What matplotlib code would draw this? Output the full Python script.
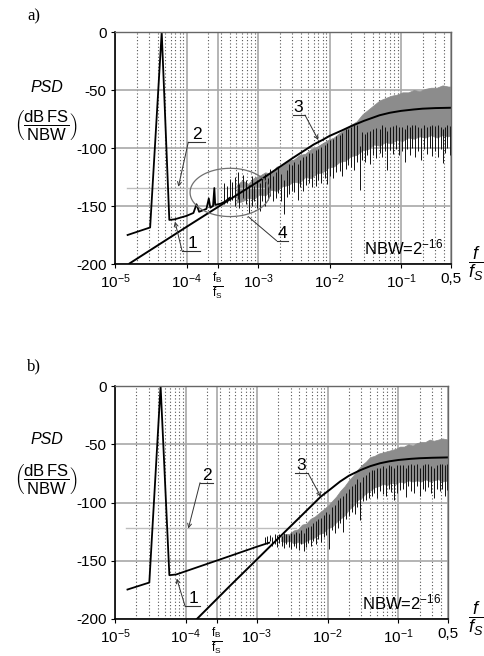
import numpy as np
import matplotlib.pyplot as plt

plt.rcParams['font.family'] = ['Liberation Sans', 'DejaVu Sans']
plt.rcParams['mathtext.fontset'] = 'custom'
plt.rcParams['mathtext.rm'] = 'Liberation Sans'
plt.rcParams['mathtext.it'] = 'Liberation Sans:italic'
plt.rcParams['mathtext.bf'] = 'Liberation Sans:bold'

# ---------------- data ----------------
f_b = 2.75e-4
x_ticks = [1e-5, 1e-4, f_b, 1e-3, 1e-2, 1e-1, 0.5]
x_labels = [r'$10^{-5}$', r'$10^{-4}$', '',
            r'$10^{-3}$', r'$10^{-2}$', r'$10^{-1}$', '0,5']
fb_label = r'$\frac{\mathrm{f_B}}{\mathrm{f_S}}$'
y_ticks = [-200, -150, -100, -50, 0]
y_labels = ['-200', '-150', '-100', '-50', '0']

# panel a) -- curve 1 (measured PSD, low frequency part)
a_c1_f = [1.5e-5, 3.1e-5, 4.5e-5, 5.75e-5, 6.8e-5, 1.0e-4, 1.25e-4, 1.38e-4, 1.5e-4,
          1.9e-4, 2.05e-4, 2.15e-4, 2.35e-4, 2.45e-4, 2.52e-4, 3.0e-4, 3.5e-4, 4.0e-4]
a_c1_db = [-175, -168.5, 0, -162, -161.5, -158.5, -156, -148.5, -155,
           -152.5, -143.5, -151.5, -150, -134.5, -149, -148, -146, -143]
# panel a) -- curve 2 (light grey level)
a_c2_f = [1.45e-5, 1.2e-3]
a_c2_db = [-134.5, -134.5]
# panel a) -- curve 3 (theoretical)
a_c3_f = [1.6e-5, 1e-4, 1e-3, 3e-3, 4e-3, 6e-3, 8e-3, 1e-2, 1.5e-2, 2e-2, 3e-2,
          5e-2, 7e-2, 0.1, 0.15, 0.2, 0.3, 0.5]
a_c3_db = [-199.5, -168, -129, -109, -104, -97, -93, -89.6, -84.8, -81.2, -76.7,
           -71.8, -69.6, -68, -66.8, -66.1, -65.6, -65.3]
# panel a) -- grey noise band (log10 f, upper, lower)
a_band_logf = [-3.30, -3.22, -3.14, -3.06, -2.98, -2.90, -2.82, -2.74, -2.66, -2.58,
               -2.50, -2.42, -2.34, -2.26, -2.18, -2.10, -2.02, -1.94, -1.86, -1.78,
               -1.70, -1.62, -1.54, -1.46, -1.38, -1.30, -1.22, -1.14, -1.06, -0.98,
               -0.90, -0.82, -0.74, -0.66, -0.58, -0.50, -0.42, -0.34, -0.30]
a_band_hi = [-132, -128, -131, -126, -124, -121, -122, -116, -115, -111,
             -110, -106, -105, -101, -99, -96, -93, -91, -87, -84,
             -80, -77, -71, -67, -63, -59, -57, -55, -54, -52,
             -52, -50, -51, -49, -48, -48, -46, -47, -47]
a_band_lo = [-147, -146, -143, -144, -140, -141, -136, -137, -133, -132,
             -129, -130, -125, -126, -122, -121, -117, -116, -112, -111,
             -107, -106, -102, -101, -97, -98, -95, -96, -93, -94,
             -91, -92, -90, -91, -89, -91, -89, -90, -89]
# panel a) -- black spikes (log10 f, bottom, top)
a_sp_logf = [-3.47, -3.43, -3.39, -3.36, -3.32, -3.28, -3.26, -3.21, -3.17, -3.13,
             -3.09, -3.05, -3.02, -2.97, -2.95, -2.90, -2.86, -2.83, -2.79, -2.75,
             -2.72, -2.68, -2.63, -2.60, -2.56, -2.53, -2.49, -2.44, -2.41, -2.37,
             -2.33, -2.29, -2.24, -2.19, -2.16, -2.12, -2.07, -2.04, -1.99, -1.95,
             -1.91, -1.86, -1.82, -1.77, -1.74, -1.70, -1.66, -1.61, -1.58, -1.55,
             -1.50, -1.47, -1.43, -1.39, -1.35, -1.30, -1.27, -1.22, -1.19, -1.15,
             -1.11, -1.07, -1.03, -0.99, -0.95, -0.92, -0.88, -0.84, -0.80, -0.76,
             -0.72, -0.68, -0.64, -0.60, -0.56, -0.52, -0.48, -0.44, -0.41, -0.38,
             -0.35, -0.32]
a_sp_lo = [-148, -147, -146, -145, -150, -144, -152, -143, -148, -156,
           -150, -146, -152, -154, -146, -150, -145, -141, -146, -143,
           -139, -146, -157, -142, -140, -137, -138, -145, -134, -137,
           -132, -130, -134, -133, -128, -130, -126, -131, -124, -126,
           -121, -120, -124, -118, -115, -116, -119, -112, -136, -110,
           -112, -106, -114, -106, -109, -104, -108, -103, -119, -102,
           -105, -101, -106, -103, -112, -101, -106, -100, -108, -103,
           -110, -101, -105, -100, -107, -103, -108, -101, -113, -104,
           -100, -106]
a_sp_hi = [-130, -133, -127, -129, -125, -121, -131, -123, -128, -132,
           -124, -133, -128, -130, -125, -122, -126, -118, -124, -121,
           -116, -122, -128, -119, -114, -115, -112, -114, -110, -108,
           -107, -104, -104, -102, -101, -99, -97, -96, -93, -92,
           -90, -89, -87, -84, -84, -82, -80, -80, -98, -86,
           -88, -86, -85, -84, -83, -84, -80, -82, -85, -82,
           -81, -80, -82, -82, -84, -80, -82, -80, -80, -82,
           -83, -80, -82, -81, -80, -81, -80, -82, -84, -82,
           -80, -81]

# panel b) -- curve 1
b_c1_f = [1.5e-5, 3.05e-5, 4.4e-5, 5.85e-5, 7.3e-5, 3.0e-4, 1.0e-3, 1.5e-3]
b_c1_db = [-174.7, -168.7, 0, -162.4, -161.8, -149, -138, -134.5]
# panel b) -- curve 2
b_c2_f = [1.45e-5, 3.6e-3]
b_c2_db = [-122.3, -122.3]
# panel b) -- curve 3
b_c3_f = [1.43e-4, 4.2e-4, 1e-3, 1.92e-3, 4e-3, 8e-3, 1.1e-2, 1.5e-2, 2e-2, 2.9e-2,
          4e-2, 5.5e-2, 7.5e-2, 0.1, 0.15, 0.2, 0.3, 0.5]
b_c3_db = [-200, -171.5, -149, -132, -113, -95, -88.5, -82, -77, -72.2,
           -68.8, -66.3, -64.6, -63.5, -62.5, -62, -61.6, -61.3]
# panel b) -- grey noise band
b_band_logf = [-2.66, -2.60, -2.54, -2.48, -2.42, -2.36, -2.30, -2.24, -2.18, -2.12,
               -2.06, -2.00, -1.94, -1.88, -1.82, -1.76, -1.70, -1.64, -1.58, -1.52,
               -1.46, -1.40, -1.34, -1.28, -1.22, -1.16, -1.10, -1.04, -0.98, -0.92,
               -0.86, -0.80, -0.74, -0.68, -0.62, -0.56, -0.50, -0.44, -0.38, -0.30]
b_band_hi = [-129, -127, -127, -124, -123, -119, -118, -114, -112, -109,
             -106, -103, -99, -95, -90, -86, -81, -77, -72, -68,
             -65, -61, -60, -58, -57, -56, -55, -54, -52, -52,
             -50, -51, -49, -48, -48, -46, -47, -46, -45, -46]
b_band_lo = [-133, -134, -133, -135, -134, -135, -133, -131, -130, -127,
             -126, -122, -121, -117, -114, -111, -106, -103, -98, -96,
             -92, -90, -87, -86, -84, -85, -83, -84, -82, -83,
             -81, -82, -81, -82, -80, -82, -81, -80, -82, -81]
# panel b) -- black spikes
b_sp_logf = [-2.88, -2.85, -2.81, -2.78, -2.74, -2.71, -2.68, -2.64, -2.62, -2.58,
             -2.55, -2.51, -2.48, -2.44, -2.41, -2.37, -2.34, -2.30, -2.27, -2.23,
             -2.20, -2.16, -2.13, -2.09, -2.05, -2.02, -1.98, -1.94, -1.90, -1.86,
             -1.83, -1.78, -1.74, -1.70, -1.66, -1.62, -1.58, -1.54, -1.50, -1.46,
             -1.42, -1.38, -1.34, -1.30, -1.26, -1.22, -1.18, -1.14, -1.10, -1.06,
             -1.02, -0.98, -0.94, -0.90, -0.86, -0.82, -0.78, -0.74, -0.70, -0.66,
             -0.62, -0.58, -0.54, -0.50, -0.46, -0.42, -0.38, -0.34, -0.31]
b_sp_lo = [-135, -136, -133, -137, -136, -138, -135, -137, -139, -136,
           -138, -140, -137, -139, -141, -136, -142, -138, -135, -137,
           -133, -136, -131, -134, -130, -128, -140, -124, -126, -122,
           -118, -125, -114, -112, -108, -110, -104, -115, -99, -98,
           -96, -94, -92, -96, -90, -93, -94, -88, -91, -98,
           -92, -89, -88, -95, -86, -90, -92, -86, -94, -88,
           -90, -87, -92, -96, -88, -90, -88, -94, -89]
b_sp_hi = [-130, -129, -128, -130, -127, -128, -127, -129, -126, -127,
           -128, -126, -127, -125, -126, -124, -126, -122, -121, -120,
           -118, -116, -114, -113, -111, -108, -110, -104, -102, -98,
           -96, -94, -92, -88, -86, -84, -80, -82, -78, -76,
           -74, -72, -72, -70, -70, -69, -70, -68, -69, -70,
           -68, -68, -68, -70, -68, -67, -68, -67, -70, -68,
           -67, -67, -69, -70, -68, -67, -67, -68, -67]

fig = plt.figure(figsize=(4.85, 6.56), dpi=100)
ax_a = fig.add_axes([115/485, 1-264/656, 336/485, 232/656])
ax_b = fig.add_axes([115/485, 1-619/656, 333/485, 233/656])

minor = [k*10.0**e for e in range(-5, 0) for k in range(2, 10) if k*10.0**e <= 0.5]


def setup(ax):
    ax.set_xscale('log')
    ax.set_xlim(1e-5, 0.5)
    ax.set_ylim(-200, 0)
    ax.set_xticks(x_ticks)
    ax.set_xticklabels(x_labels)
    ax.set_xticks(minor, minor=True)
    ax.set_xticklabels([], minor=True)
    ax.set_yticks(y_ticks)
    ax.set_yticklabels(y_labels)
    ax.tick_params(which='major', length=3, labelsize=11, pad=3)
    ax.tick_params(which='minor', length=0)
    # f_B / f_S label under its grid line
    ax.annotate(fb_label, xy=(f_b, 0), xycoords=('data', 'axes fraction'),
                xytext=(0, -4), textcoords='offset points',
                ha='center', va='top', fontsize=12)
    ax.set_axisbelow(True)
    ax.grid(which='major', color='#a8a8a8', lw=1.2, ls='-')
    ax.grid(which='minor', axis='x', color='#555555', lw=0.8, ls=(0, (1, 2)))
    for s in ['left', 'bottom']:
        ax.spines[s].set_color('black')
        ax.spines[s].set_linewidth(1.2)
    for s in ['top', 'right']:
        ax.spines[s].set_color('#666666')
        ax.spines[s].set_linewidth(1.0)
    ax.text(0.86, 0.07, r'NBW=2$^{-16}$', transform=ax.transAxes,
            ha='center', va='center', fontsize=12)


def draw(ax, c1f, c1d, c2f, c2d, c3f, c3d, bl, bh, blo, sl, slo, shi):
    ax.plot(c2f, c2d, color='#bdbdbd', lw=1.0)
    bf = 10.0 ** np.array(bl)
    ax.fill_between(bf, blo, bh, color='#8c8c8c', lw=0.5, edgecolor='#8c8c8c')
    ax.vlines(10.0 ** np.array(sl), slo, shi, color='#111111', lw=0.7)
    ax.plot(c1f, c1d, color='black', lw=1.3)
    ax.plot(c3f, c3d, color='black', lw=1.4)


def label(ax, txt, pos, ul, tip, arrow=True):
    ax.text(pos[0], pos[1], txt, ha='center', va='bottom', fontsize=12.5)
    ax.plot(ul[0], ul[1], color='#333333', lw=0.8)
    st = '->' if arrow else '-'
    ax.annotate('', xy=tip, xytext=ul[2], arrowprops=dict(
        arrowstyle=st, lw=0.7, color='#333333', shrinkA=0, shrinkB=0, mutation_scale=7))


setup(ax_a)
setup(ax_b)
draw(ax_a, a_c1_f, a_c1_db, a_c2_f, a_c2_db, a_c3_f, a_c3_db,
     a_band_logf, a_band_hi, a_band_lo, a_sp_logf, a_sp_lo, a_sp_hi)
draw(ax_b, b_c1_f, b_c1_db, b_c2_f, b_c2_db, b_c3_f, b_c3_db,
     b_band_logf, b_band_hi, b_band_lo, b_sp_logf, b_sp_lo, b_sp_hi)

# ellipse "4" around the spurs, round in log-x
t = np.linspace(0, 2*np.pi, 120)
ax_a.plot(10.0 ** (-3.39 + 0.56*np.cos(t)), -138.3 + 20.8*np.sin(t), color='#707070', lw=0.9)

# labels with underline and leader
label(ax_a, '2', (1.39e-4, -95), ([10**-3.975, 10**-3.74], [-95, -95], (10**-3.975, -95)), (7.7e-5, -133.4))
label(ax_a, '1', (1.23e-4, -188.5), ([10**-4.063, 10**-3.811], [-188.5, -188.5], (10**-4.063, -188.5)), (6.9e-5, -163.5))
label(ax_a, '3', (3.66e-3, -71.6), ([10**-2.51, 10**-2.343], [-71.6, -71.6], (10**-2.343, -71.6)), (6.97e-3, -93.1))
label(ax_a, '4', (2.21e-3, -180), ([10**-2.739, 10**-2.576], [-180, -180], (10**-2.739, -180)), (10**-3.136, -159.2), arrow=False)

label(ax_b, '2', (1.97e-4, -83), ([10**-3.8, 10**-3.616], [-83, -83], (10**-3.8, -83)), (10**-3.965, -122.3))
label(ax_b, '1', (1.28e-4, -189), ([10**-4.011, 10**-3.8], [-189, -189], (10**-4.011, -189)), (10**-4.129, -165.3))
label(ax_b, '3', (4.24e-3, -75), ([10**-2.458, 10**-2.274], [-75, -75], (10**-2.274, -75)), (10**-2.095, -95.1))

# y axis titles and panel letters
for yp, yf, fx_y in [(88, 125, 264), (440, 479, 619)]:
    fig.text(47/485, 1-yp/656, 'PSD', style='italic', fontsize=11.5, ha='center', va='center')
    fig.text(46/485, 1-yf/656, r'$\left(\dfrac{\mathrm{dB\,FS}}{\mathrm{NBW}}\right)$',
             fontsize=12, ha='center', va='center')
    fig.text(476/485, 1-fx_y/656, r'$\dfrac{f}{f_S}$', fontsize=13, ha='center', va='center')
fig.text(34/485, 1-16/656, 'a)', family='Liberation Serif', fontsize=12, ha='center', va='center')
fig.text(34/485, 1-366/656, 'b)', family='Liberation Serif', fontsize=12, ha='center', va='center')

fig.savefig('out.png', dpi=100)
